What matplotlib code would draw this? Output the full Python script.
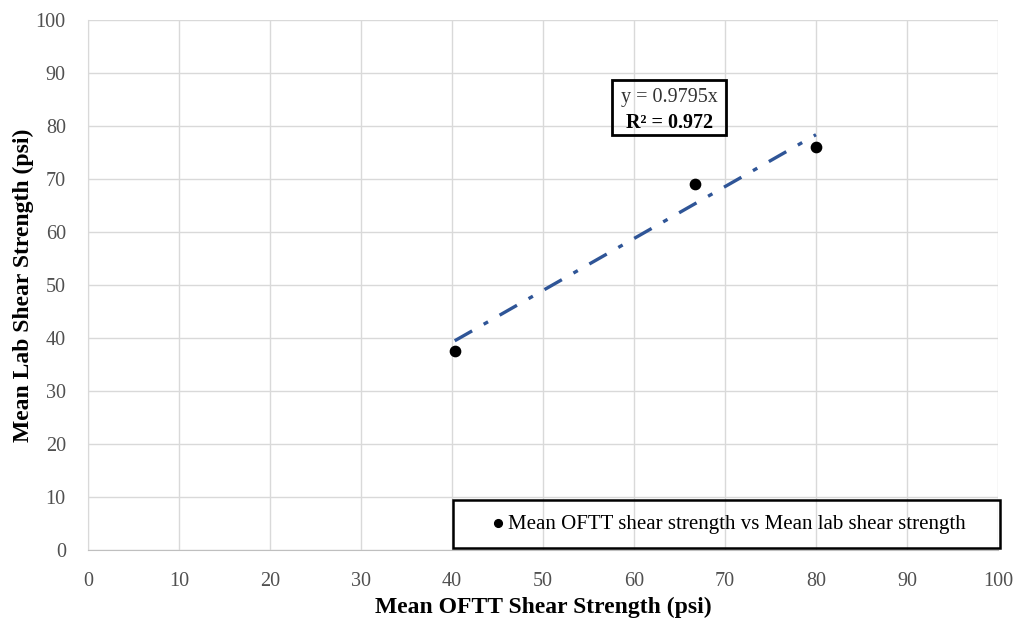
import matplotlib
matplotlib.use("Agg")
import matplotlib.pyplot as plt
import numpy as np

plt.rcParams['font.family'] = ['Liberation Serif', 'DejaVu Serif']

oftt = [40.3, 66.7, 80.0]
lab = [37.5, 69.0, 76.0]
slope = 0.9795
r2 = 0.972
series_label = "Mean OFTT shear strength vs Mean lab shear strength"
ticks = list(range(0, 101, 10))

fig = plt.figure(figsize=(10.19, 6.21), dpi=100)
ax = fig.add_axes([88/1019, 1-550/621, 910/1019, 530/621])

ax.set_xlim(0, 100)
ax.set_ylim(0, 100)
ax.set_xticks(ticks)
ax.set_yticks(ticks)
ax.grid(True, color='#d9d9d9', linewidth=1)
ax.set_axisbelow(True)
for s in ['top', 'right']:
    ax.spines[s].set_visible(False)
ax.spines['left'].set_color('#d9d9d9')
ax.spines['bottom'].set_color('#bfbfbf')
ax.tick_params(length=0, labelsize=14.5, colors='#505050')
ax.tick_params(axis='x', pad=16)
ax.tick_params(axis='y', pad=16)

xs = np.array([min(oftt), max(oftt)])
ax.plot(xs, slope*xs, color='#2F5597', linestyle=(0, (6, 4, 1.5, 4)), linewidth=2.4)
ax.scatter(oftt, lab, s=55, color='black', zorder=3, label=series_label)

ax.text(63.9, 85.3, f"y = {slope}x", ha='center', va='center', fontsize=14.5, color='#333333')
ax.text(63.9, 80.6, f"R² = {r2}", ha='center', va='center', fontsize=14.5, fontweight='bold')
ax.add_patch(plt.Rectangle((57.6, 78.3), 12.5, 10.3, fill=False, edgecolor='black', linewidth=2,
                           transform=ax.transData, clip_on=False))

# legend frame drawn as a rectangle in axes coordinates
ax.add_patch(plt.Rectangle((0.401, 0.004), 0.601, 0.090, fill=False, edgecolor='black', linewidth=1.8,
                           transform=ax.transAxes, clip_on=False, zorder=4))
leg = ax.legend(loc='center left', bbox_to_anchor=(0.439, 0.049), fontsize=15, frameon=False,
                handletextpad=0.0, borderpad=0, borderaxespad=0, markerscale=0.75, handlelength=1.0)
ax.set_xlabel("Mean OFTT Shear Strength (psi)", fontsize=17, fontweight='bold', labelpad=4)
ax.set_ylabel("Mean Lab Shear Strength (psi)", fontsize=17, fontweight='bold', labelpad=1)

fig.savefig("out.png", dpi=100)
